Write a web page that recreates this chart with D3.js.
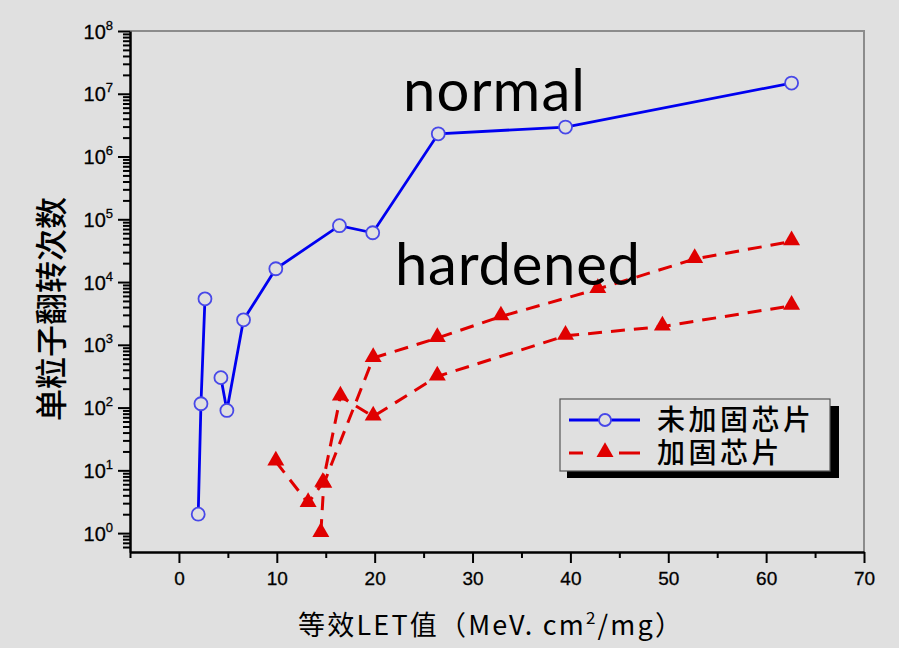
<!DOCTYPE html>
<html>
<head>
<meta charset="utf-8">
<script src="https://cdn.jsdelivr.net/npm/d3@7"></script>
<style>
  body { margin: 0; background: #e0e0e0; }
  svg { display: block; }
</style>
</head>
<body>
<svg width="899" height="648"></svg>
<script>
// --- data ---
// unhardened chip: two runs of points, the line breaks between them
var letNormal    = [1.97, 2.25, 2.66, 4.29, 4.9, 6.6, 9.9, 16.4, 19.8, 26.5, 39.5, 62.6];
var upsetsNormal = [2, 115, 5400, 300, 90, 2500, 16300, 79000, 61000, 2300000, 2950000, 14800000];
var runNormal    = [0, 0, 0, 1, 1, 1, 1, 1, 1, 1, 1, 1];

// hardened chip, two curves
var letHardA    = [9.9, 13.2, 14.7, 16.5, 19.85, 26.4, 39.5, 49.4, 62.6];
var upsetsHardA = [13.8, 3.0, 6.3, 150, 72, 313, 1390, 1960, 4190];
var letHardB    = [14.5, 14.8, 19.85, 26.4, 32.9, 42.8, 52.7, 62.6];
var upsetsHardB = [1.0, 6.1, 615, 1280, 2830, 7730, 23300, 44400];

var xTicks = [0, 10, 20, 30, 40, 50, 60, 70];
var yDecades = [0, 1, 2, 3, 4, 5, 6, 7, 8];

var legendNames = ["未加固芯片", "加固芯片"];
var xTitle = "等效LET值（MeV. cm", xTitleSup = "2", xTitleEnd = "/mg）";
var yTitle = "单粒子翻转次数";

// --- layout ---
var svg = d3.select("svg"),
    margin = {top: 31, right: 35, bottom: 96, left: 130},
    width = svg.attr("width") - margin.left - margin.right,
    height = svg.attr("height") - margin.top - margin.bottom,
    g = svg.append("g").attr("transform", "translate(" + margin.left + "," + margin.top + ")");

svg.insert("rect", ":first-child").attr("width", 899).attr("height", 648).attr("fill", "#e0e0e0");

var x = d3.scaleLinear().domain([-5, 70]).range([0, width]);
var y = d3.scaleLog().domain([0.5, 1e8]).range([height, 0]);

var blue = "#0000f0", red = "#e00000", circleStroke = "#4848e8";
var latin = "'Liberation Sans', Arial, sans-serif";
var cjk = "'Noto Sans CJK SC', sans-serif";

// frame (top / right in gray)
g.append("path")
  .attr("d", "M0,0H" + width + "V" + height)
  .attr("fill", "none").attr("stroke", "#8c8c8c").attr("stroke-width", 2);

// --- axes ---
var minorY = [];
yDecades.forEach(function(e) {
  if (e < 8) for (var k = 2; k <= 9; k++) minorY.push(k * Math.pow(10, e));
});
minorY.push(0.6, 0.7, 0.8, 0.9);

var yMinor = g.append("g")
  .call(d3.axisLeft(y).tickValues(minorY).tickSize(7).tickFormat(""));
yMinor.select(".domain").remove();
yMinor.selectAll("text").remove();

var yAxis = g.append("g")
  .call(d3.axisLeft(y).tickValues(yDecades.map(function(e) { return Math.pow(10, e); }))
    .tickSize(12).tickSizeOuter(0).tickFormat(""));
yAxis.selectAll(".tick text").remove();

var xMinor = g.append("g").attr("transform", "translate(0," + height + ")")
  .call(d3.axisBottom(x).tickValues([-5, 5, 15, 25, 35, 45, 55, 65]).tickSize(6).tickFormat(""));
xMinor.select(".domain").remove();
xMinor.selectAll("text").remove();

var xAxis = g.append("g").attr("transform", "translate(0," + height + ")")
  .call(d3.axisBottom(x).tickValues(xTicks).tickSize(11).tickSizeOuter(0).tickPadding(9));

g.selectAll(".domain").attr("stroke", "#000").attr("stroke-width", 2.5);
g.selectAll(".tick line").attr("stroke", "#000").attr("stroke-width", 2);

xAxis.selectAll(".tick text")
  .attr("font-size", 19).attr("font-family", latin).attr("fill", "#000")
  .attr("stroke", "#000").attr("stroke-width", 0.3);

// y labels 10^n
yAxis.selectAll(".tick").each(function(d) {
  var t = d3.select(this).append("text")
    .attr("x", -17).attr("dy", "0.35em")
    .attr("text-anchor", "end").attr("fill", "#000")
    .attr("stroke", "#000").attr("stroke-width", 0.3)
    .attr("font-size", 20).attr("font-family", latin);
  t.append("tspan").text("10");
  t.append("tspan").attr("dy", -9).attr("font-size", 13)
    .text(Math.round(Math.log10(d)));
});

// --- lines ---
function pts(xs, ys) { return xs.map(function(v, i) { return {x: v, y: ys[i]}; }); }

var line = d3.line().x(function(d) { return x(d.x); }).y(function(d) { return y(d.y); });

var normalPts = pts(letNormal, upsetsNormal);
var runs = d3.groups(normalPts.map(function(p, i) { p.run = runNormal[i]; return p; }), function(p) { return p.run; });

var hardA = pts(letHardA, upsetsHardA), hardB = pts(letHardB, upsetsHardB);

g.selectAll(".hard").data([hardA, hardB]).enter().append("path")
  .attr("class", "hard")
  .attr("d", line)
  .attr("fill", "none").attr("stroke", red).attr("stroke-width", 3)
  .attr("stroke-dasharray", "14,9");

g.selectAll(".normal").data(runs).enter().append("path")
  .attr("class", "normal")
  .attr("d", function(r) { return line(r[1]); })
  .attr("fill", "none").attr("stroke", blue).attr("stroke-width", 2.8);

var tri = d3.symbol().type(d3.symbolTriangle).size(125);

g.selectAll(".tri").data(hardA.concat(hardB)).enter().append("path")
  .attr("class", "tri")
  .attr("d", tri)
  .attr("transform", function(d) { return "translate(" + x(d.x) + "," + (y(d.y) - 1) + ")"; })
  .attr("fill", red);

g.selectAll(".dot").data(normalPts).enter().append("circle")
  .attr("class", "dot")
  .attr("cx", function(d) { return x(d.x); })
  .attr("cy", function(d) { return y(d.y); })
  .attr("r", 6.5)
  .attr("fill", "#e0e0e0").attr("stroke", circleStroke).attr("stroke-width", 1.8);

// --- annotations ---
svg.append("text").attr("x", 403).attr("y", 111).attr("textLength", 182)
  .attr("font-size", 58).attr("font-family", "Lato, 'Open Sans', sans-serif").attr("fill", "#000").text("normal");
svg.append("text").attr("x", 395).attr("y", 285).attr("textLength", 245)
  .attr("font-size", 58).attr("font-family", "Lato, 'Open Sans', sans-serif").attr("fill", "#000").text("hardened");

// --- legend ---
var lg = svg.append("g").attr("transform", "translate(560,399)");
lg.append("rect").attr("x", 7).attr("y", 7).attr("width", 272).attr("height", 72).attr("fill", "#000");
lg.append("rect").attr("width", 270).attr("height", 72)
  .attr("fill", "#e0e0e0").attr("stroke", "#555").attr("stroke-width", 1.2);

lg.append("line").attr("x1", 9).attr("x2", 80).attr("y1", 21).attr("y2", 21)
  .attr("stroke", blue).attr("stroke-width", 2.8);
lg.append("circle").attr("cx", 45).attr("cy", 21).attr("r", 6)
  .attr("fill", "#e0e0e0").attr("stroke", circleStroke).attr("stroke-width", 1.8);
lg.append("line").attr("x1", 9).attr("x2", 80).attr("y1", 54).attr("y2", 54)
  .attr("stroke", red).attr("stroke-width", 3).attr("stroke-dasharray", "14,22,0,14,21");
lg.append("path").attr("d", tri).attr("transform", "translate(45,53)").attr("fill", red);

lg.selectAll(".lt").data(legendNames).enter().append("text")
  .attr("class", "lt")
  .attr("x", 97).attr("y", function(d, i) { return 31 + i * 33; })
  .attr("font-size", 28).attr("font-weight", 500).attr("letter-spacing", 3.5)
  .attr("font-family", "'Liberation Sans', " + cjk).attr("fill", "#000")
  .text(function(d) { return d; });

// --- axis titles ---
var xt = svg.append("text").attr("x", 298).attr("y", 635).attr("textLength", 384)
  .attr("font-size", 27).attr("font-family", cjk).attr("fill", "#000");
xt.append("tspan").text(xTitle);
xt.append("tspan").attr("dy", -11).attr("font-size", 17).text(xTitleSup);
xt.append("tspan").attr("dy", 11).text(xTitleEnd);

svg.append("text")
  .attr("transform", "translate(63,309) rotate(-90)")
  .attr("text-anchor", "middle")
  .attr("font-size", 32).attr("font-weight", 500).attr("font-family", cjk).attr("fill", "#000")
  .text(yTitle);
</script>
</body>
</html>
